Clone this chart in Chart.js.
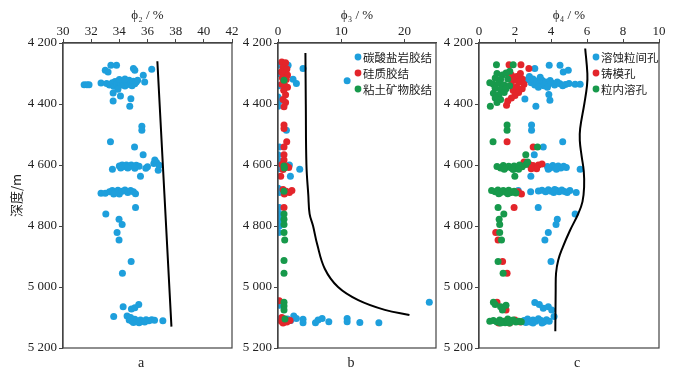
<!DOCTYPE html>
<html>
<head>
<meta charset="utf-8">
<script src="https://cdn.jsdelivr.net/npm/chart.js@4/dist/chart.umd.min.js"></script>
<style>
body { margin: 0; background: #fff; width: 688px; height: 372px; overflow: hidden; position: relative; }
canvas { position: absolute; top: 0; }
</style>
</head>
<body>
<canvas id="chart-a" style="left:0px" width="240" height="372"></canvas>
<canvas id="chart-b" style="left:230px" width="215" height="372"></canvas>
<canvas id="chart-c" style="left:440px" width="248" height="372"></canvas>
<script>
// ---------------- data (x value, depth m) ----------------
const depthTicks = [4200, 4400, 4600, 4800, 5000, 5200];

// panel a : phi2
const phi2Points = [
  [33.4,4273],[33.8,4273],[33.0,4289],[33.2,4295],[35.0,4284],[35.1,4289],[36.3,4286],[35.7,4306],
  [31.5,4337],[31.7,4337],[31.85,4337],[32.7,4331],
  [33.1,4333],[33.3,4338],[33.5,4330],[33.6,4342],[33.7,4326],[33.8,4335],[33.9,4345],[34.0,4330],
  [34.1,4338],[34.2,4325],[34.3,4333],[34.4,4341],[34.5,4328],[34.6,4336],[34.7,4322],[34.8,4331],
  [34.9,4340],[35.0,4325],[35.1,4334],[35.2,4328],[33.9,4352],[34.0,4320],[34.4,4318],[35.3,4322],[35.8,4328],
  [33.56,4364],[34.08,4374],[33.56,4390],[34.82,4383],[34.74,4407],
  [35.6,4473],[35.6,4486],[33.37,4524],[35.08,4541],[35.69,4566],
  [36.52,4584],[36.45,4595],[36.64,4592],[36.83,4601],[36.76,4617],[35.88,4611],[36.0,4606],[33.51,4614],
  [34.0,4603],[34.2,4600],[34.35,4605],[34.5,4600],[34.7,4604],[34.85,4600],[35.0,4605],[35.2,4601],
  [35.4,4604],[34.1,4610],[34.6,4610],[35.1,4611],[35.5,4637],
  [32.7,4693],[33.0,4693],[33.3,4688],[33.5,4684],[33.7,4690],[33.9,4683],[34.0,4695],[34.2,4686],
  [34.4,4682],[34.6,4690],[34.8,4684],[35.0,4688],[35.15,4694],[33.6,4695],
  [35.15,4739],[33.04,4761],[33.98,4778],[34.2,4795],[33.84,4821],[33.98,4846],[34.84,4916],[34.22,4955],
  [34.27,5065],[34.86,5072],[35.1,5068],[35.38,5057],[33.6,5097],[34.55,5095],
  [34.7,5108],[34.9,5112],[35.1,5106],[35.3,5113],[35.5,5108],[35.7,5112],[35.9,5107],[36.1,5111],
  [36.3,5107],[36.5,5109],[35.0,5116],[35.4,5117],[35.8,5115],[34.8,5100],[37.09,5111]
];
const phi2Curve = [[36.7,4260],[37.7,5130]];

// panel b : phi3
const carbonateCement = [
  [0.0,4273],[0.6,4273],[1.6,4273],[3.96,4284],[2.38,4319],[2.91,4333],[10.94,4324],[0.1,4300],[0.1,4340],
  [0.0,4377],[0.0,4407],[0.2,4390],[1.33,4486],[0.2,4541],[0.0,4566],[0.0,4584],[0.0,4595],[0.1,4605],
  [0.3,4612],[1.8,4600],[3.44,4614],[1.96,4637],[0.0,4676],[0.1,4685],[0.2,4690],[0.4,4682],
  [0.2,4739],[0.2,4761],[0.2,4778],[0.1,4795],[0.2,4800],[0.1,4821],[0.0,5050],[0.3,5060],
  [0.0,5105],[0.5,5110],[2.49,5095],[2.91,5103],[3.96,5106],[3.96,5117],[5.93,5117],[6.34,5108],
  [6.98,5103],[8.04,5114],[10.94,5103],[10.94,5114],[12.95,5116],[15.96,5117],[1.5,5105],[2.0,5110],[23.94,5050]
];
const siliceousCement = [
  [0.6,4262],[1.2,4265],[0.8,4280],[1.4,4285],[0.5,4295],[1.0,4300],[1.5,4305],[0.7,4315],[1.3,4320],
  [0.6,4335],[1.1,4340],[1.5,4345],[0.9,4355],[1.2,4370],[0.8,4385],[1.2,4395],[0.95,4409],
  [0.95,4469],[0.95,4480],[1.38,4524],[0.95,4541],[0.95,4566],[0.95,4584],[0.6,4598],[1.3,4603],
  [1.7,4608],[0.8,4615],[0.43,4637],[0.8,4680],[1.3,4686],[1.8,4690],[2.2,4684],[1.0,4695],[0.95,4739],
  [0.2,5045],[0.6,5100],[1.0,5105],[1.4,5115],[0.8,5118],[1.9,5110],[0.5,5112]
];
const clayCement = [
  [0.95,4322],[0.95,4603],[1.0,4610],[0.95,4686],[0.95,4761],[0.95,4778],[0.95,4795],[0.95,4821],
  [1.06,4846],[0.95,4913],[0.95,4955],[0.95,5050],[0.95,5062],[0.95,5075],[1.1,5105]
];
const phi3Curve = [[4.34,4233],[4.4,4400],[4.5,4600],[4.8,4700],[5.0,4760],[5.55,4800],[6.2,4860],
  [7.4,4940],[9.5,5000],[12.7,5043],[16.9,5075],[20.8,5092]];

// panel c : phi4
const intergranularPores = [
  [3.1,4284],[3.9,4273],[4.5,4273],[4.96,4289],[4.68,4295],
  [2.7,4320],[2.9,4330],[3.0,4318],[3.1,4338],[3.2,4325],[3.35,4333],[3.5,4322],[3.6,4340],[3.7,4328],
  [3.85,4335],[3.95,4323],[4.05,4331],[4.2,4338],[4.35,4328],[4.5,4334],[4.65,4340],[4.8,4336],[5.0,4333],
  [3.3,4345],[3.8,4345],[2.8,4310],[3.4,4312],[5.34,4335],[5.62,4335],[2.55,4384],[3.88,4369],[3.94,4388],[3.16,4407],
  [2.92,4469],[2.92,4486],[4.65,4524],[3.57,4541],[3.07,4566],
  [3.8,4605],[3.95,4610],[4.1,4602],[4.25,4608],[4.4,4603],[4.55,4610],[4.7,4604],[4.85,4608],[3.85,4614],[4.3,4614],
  [5.62,4614],[2.88,4637],[2.18,4684],[2.87,4688],
  [3.3,4685],[3.5,4683],[3.7,4688],[3.85,4681],[4.0,4686],[4.15,4690],[4.3,4683],[4.45,4688],[4.6,4682],
  [4.75,4687],[4.9,4690],[5.05,4684],[5.4,4690],[4.2,4680],
  [3.29,4739],[5.34,4761],[4.35,4778],[4.28,4795],[3.85,4821],[3.66,4846],[4.0,4916],
  [3.1,5051],[3.35,5057],[3.57,5070],[3.85,5065],[4.04,5075],[4.17,5097],
  [2.5,5110],[2.7,5105],[2.85,5115],[3.0,5108],[3.15,5112],[3.3,5104],[3.45,5110],[3.6,5115],[3.75,5107],
  [3.9,5112],[3.0,5118],[3.5,5118],[2.6,5116]
];
const moldicPores = [
  [1.67,4271],[2.33,4271],[2.77,4284],
  [1.8,4305],[2.1,4310],[2.4,4318],[1.9,4322],[2.2,4328],[2.5,4335],[1.8,4338],[2.1,4344],[2.4,4350],
  [1.9,4356],[2.2,4362],[2.0,4372],[1.8,4380],[1.6,4390],[1.53,4404],[2.3,4300],
  [1.56,4524],[3.01,4541],
  [2.5,4590],[2.8,4598],[3.0,4602],[3.3,4600],[3.5,4597],[3.2,4612],[2.9,4612],
  [2.18,4688],[2.36,4695],[1.95,4739],[0.93,4821],[1.06,4846],[1.31,4916],[1.56,4955],
  [1.0,5050],[1.5,5075],[1.4,5112],[1.7,5118],[2.0,5108],[2.3,5115],[1.1,5118]
];
const intragranularPores = [
  [0.97,4271],[1.9,4271],[1.71,4293],
  [1.0,4300],[1.3,4305],[1.5,4298],[0.9,4315],[1.2,4320],[1.6,4318],[0.6,4330],[0.8,4335],[1.1,4332],
  [1.4,4338],[1.7,4340],[0.9,4348],[1.2,4352],[1.5,4350],[0.8,4365],[1.1,4370],[1.4,4362],[0.9,4380],
  [1.2,4385],[1.0,4395],[0.63,4407],
  [1.56,4469],[1.56,4486],[0.78,4524],[3.25,4541],[2.6,4566],
  [1.0,4605],[1.2,4610],[1.35,4602],[1.5,4608],[1.65,4604],[1.8,4610],[1.95,4603],[2.1,4608],[2.25,4600],
  [2.4,4606],[2.6,4598],[2.7,4590],[1.4,4614],[1.9,4615],[2.2,4614],[1.99,4637],
  [0.7,4684],[0.9,4688],[1.05,4682],[1.2,4690],[1.35,4684],[1.5,4689],[1.65,4683],[1.8,4690],[1.95,4686],
  [2.05,4692],[1.1,4694],[1.6,4694],
  [1.06,4739],[1.38,4761],[1.12,4778],[1.15,4795],[1.15,4821],[1.25,4846],[1.06,4916],[1.34,4955],
  [0.8,5050],[0.9,5057],[1.2,5065],[1.5,5060],[1.3,5075],
  [0.6,5112],[0.8,5110],[1.0,5115],[1.15,5108],[1.3,5112],[1.45,5117],[1.6,5105],[1.75,5112],[1.9,5108],
  [2.05,5115],[2.2,5112],[2.35,5114],[1.2,5118],[1.7,5118]
];
const phi4Curve = [[5.9,4218],[6.02,4300],[6.0,4340],[5.85,4400],[5.62,4480],[5.6,4520],[5.7,4570],
  [5.82,4620],[5.84,4672],[5.75,4720],[5.52,4759],[5.06,4814],[4.65,4870],[4.4,4912],[4.28,4955],
  [4.26,5010],[4.24,5145]];

const legendB = ['碳酸盐岩胶结', '硅质胶结', '粘土矿物胶结'];
const legendC = ['溶蚀粒间孔', '铸模孔', '粒内溶孔'];

// ---------------- style ----------------
const BLUE = '#1e9fdc', RED = '#e3252b', GREEN = '#17994b';
const AXIS = '#444';
const SERIF = '"Liberation Serif", "Times New Roman", serif';
const CJK = '"Noto Sans CJK SC", sans-serif';

function toXY(arr) { return arr.map(p => ({ x: p[0], y: p[1] })); }
function fmtDepth(v) { return String(v).replace(/\B(?=(\d{3})+(?!\d))/g, ' '); }

function dots(label, arr, color, order) {
  return { label: label, data: toXY(arr), backgroundColor: color, borderWidth: 0,
           pointRadius: 3.5, pointHoverRadius: 3.5, order: order };
}
function curve(arr) {
  return { label: 'curve', data: toXY(arr), showLine: true, borderColor: '#000', borderWidth: 2,
           pointRadius: 0, tension: 0.4, fill: false, order: 0 };
}

// draws box round the plot, bottom letter and the inside legend
const panelDecor = {
  id: 'panelDecor',
  afterDraw(chart, args, opts) {
    const ca = chart.chartArea, ctx = chart.ctx;
    ctx.save();
    ctx.strokeStyle = AXIS;
    ctx.lineWidth = 1.2;
    ctx.strokeRect(ca.left, ca.top, ca.right - ca.left, ca.bottom - ca.top);
    ctx.fillStyle = '#222';
    ctx.font = '14px ' + SERIF;
    ctx.textAlign = 'center';
    ctx.textBaseline = 'middle';
    ctx.fillText(opts.letter, ca.left + opts.letterX, 363);
    if (opts.legend) {
      ctx.font = '11.5px ' + CJK;
      ctx.textAlign = 'left';
      opts.legend.forEach((txt, i) => {
        const y = ca.top + 14 + i * 16;
        ctx.fillStyle = opts.colors[i];
        ctx.beginPath();
        ctx.arc(ca.right - opts.legendX, y, 3.4, 0, Math.PI * 2);
        ctx.fill();
        ctx.fillStyle = '#222';
        ctx.fillText(txt, ca.right - opts.legendX + 5, y + 1);
      });
    }
    ctx.restore();
  }
};

function makeChart(id, cfg) {
  return new Chart(document.getElementById(id), {
    type: 'scatter',
    data: { datasets: cfg.datasets },
    plugins: [panelDecor],
    options: {
      responsive: false,
      animation: false,
      events: [],
      layout: { padding: { left: 0, right: cfg.padRight, top: 0, bottom: 24 } },
      plugins: {
        legend: { display: false },
        tooltip: { enabled: false },
        panelDecor: cfg.decor
      },
      scales: {
        x: {
          type: 'linear',
          position: 'top',
          min: cfg.xMin, max: cfg.xMax,
          afterFit: s => { s.height = 43; },
          ticks: { stepSize: cfg.xStep, includeBounds: false, padding: 0, color: '#222',
                   font: { family: SERIF, size: 13 }, maxRotation: 0 },
          grid: { drawOnChartArea: false, drawTicks: true, tickLength: 4, color: AXIS },
          border: { display: true, color: AXIS, width: 1.2 },
          title: { display: true, text: cfg.xTitle, color: '#222', font: { family: SERIF, size: 13 },
                   padding: { top: 8, bottom: 0 } }
        },
        y: {
          type: 'linear',
          position: 'left',
          reverse: true,
          min: 4200, max: 5200,
          afterFit: s => { s.width = cfg.yWidth; },
          afterBuildTicks: s => { s.ticks = depthTicks.map(v => ({ value: v })); },
          ticks: { callback: v => fmtDepth(v), padding: 2, color: '#222',
                   font: { family: SERIF, size: 13 } },
          grid: { drawOnChartArea: false, drawTicks: true, tickLength: 4, color: AXIS },
          border: { display: true, color: AXIS, width: 1.2 },
          title: { display: !!cfg.yTitle, text: cfg.yTitle || '', color: '#222',
                   font: { family: CJK, size: 13 }, padding: { top: 8, bottom: 0 } }
        }
      }
    }
  });
}

makeChart('chart-a', {
  xMin: 30, xMax: 42, xStep: 2, xTitle: 'ϕ₂ / %', yWidth: 63, padRight: 8, yTitle: '深度/m',
  datasets: [curve(phi2Curve), dots('ϕ2', phi2Points, BLUE, 3)],
  decor: { letter: 'a', letterX: 78 }
});

makeChart('chart-b', {
  xMin: 0, xMax: 25, xStep: 10, xTitle: 'ϕ₃ / %', yWidth: 48, padRight: 9,
  datasets: [curve(phi3Curve), dots(legendB[0], carbonateCement, BLUE, 3),
             dots(legendB[1], siliceousCement, RED, 2), dots(legendB[2], clayCement, GREEN, 1)],
  decor: { letter: 'b', letterX: 73, legend: legendB, colors: [BLUE, RED, GREEN], legendX: 78 }
});

makeChart('chart-c', {
  xMin: 0, xMax: 10, xStep: 2, xTitle: 'ϕ₄ / %', yWidth: 39, padRight: 29,
  datasets: [curve(phi4Curve), dots(legendC[0], intergranularPores, BLUE, 3),
             dots(legendC[1], moldicPores, RED, 2), dots(legendC[2], intragranularPores, GREEN, 1)],
  decor: { letter: 'c', letterX: 98, legend: legendC, colors: [BLUE, RED, GREEN], legendX: 63 }
});
</script>
</body>
</html>
